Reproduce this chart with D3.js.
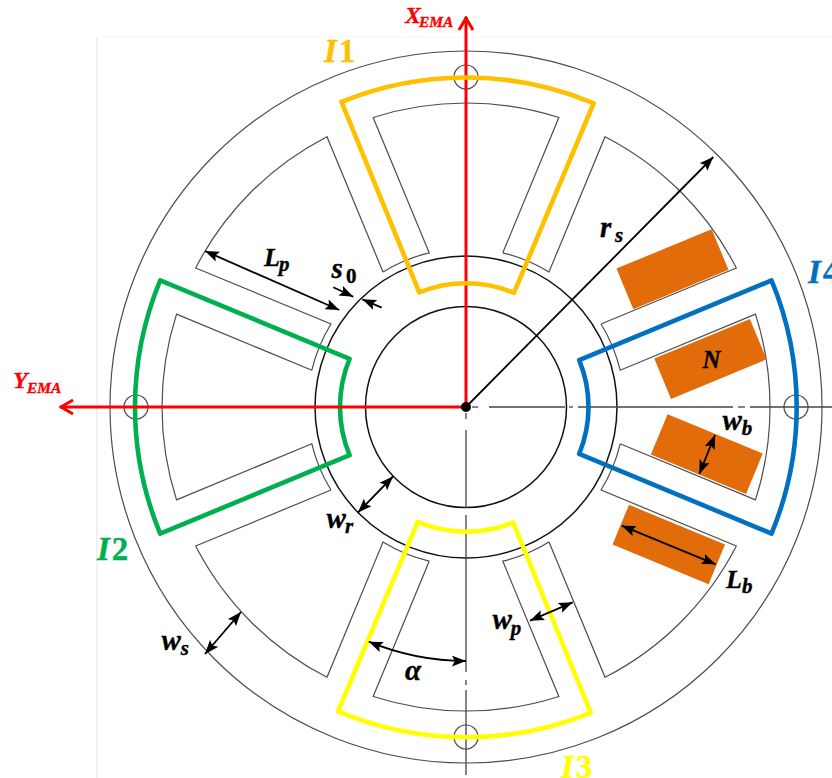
<!DOCTYPE html>
<html>
<head>
<meta charset="utf-8">
<script src="https://cdn.jsdelivr.net/npm/d3@7"></script>
<style>
  html, body { margin: 0; padding: 0; background: #fff; }
  svg { display: block; }
  text { font-family: "Liberation Serif", serif; font-weight: bold; }
</style>
</head>
<body>
<div id="chart"></div>
<script>
//////////////// machine dimensions (1 unit = 1 px) ////////////////
var statorRadius = 356;
var statorBackRadius = 304;
var toothTipRadius = 158.5;
var toothHalfWidth = 25;
var rotorRadius = 151;
var shaftRadius = 100.5;
var holeRadius = 12;
var holeDistance = 330;
var holeAngles = [0, 90, 180, 270];
var toothAngles = [22.5, 67.5, 112.5, 157.5, 202.5, 247.5, 292.5, 337.5];
var slotPitch = 45;

// coils
var coilNames = ["I1", "I2", "I3", "I4"];
var coilAngles = [0.3, 270, 180.3, 90];
var coilInner = [123.7, 126, 124.7, 122.5];
var coilOuter = [329.5, 331, 330.3, 330.7];
var coilHalfSpan = 22.5;
var coilColors = ["#ffc000", "#00b050", "#ffff00", "#0070c0"];

// magnets: tooth axis, distance along it, offset across it
var magnetTooth = [67.5, 67.5, 112.5, 112.5];
var magnetAlong = [[192, 295], [192.5, 296], [189, 292], [188, 292]];
var magnetAcross = [[26.3, 70.3], [27.3, 71], [26.8, 70.5], [28, 71]];

// dash-dot centre lines, distances from the centre
var rightDashes = [[6, 12], [23, 99], [103, 107], [112, 267], [272, 279], [284, 366]];
var downDashes = [[6, 12], [23, 101], [108, 265], [273, 278], [283, 368]];

// dimension arrows [x0, y0, x1, y1, two heads?], model units
var dimArrows = [
  [0, 0, 247.3, 250, false],       // r_s
  [-261, 156, -126.7, 97, true],   // L_p
  [-132.7, 119.7, -112.7, 110.3, false], // s_0
  [-84.3, 99.3, -103.7, 107.7, false],
  [-73, -69.5, -108, -105.5, true], // w_r
  [249, -28, 233.3, -67, true],    // w_b
  [155.7, -118.7, 249.7, -157.3, true], // L_b
  [64, -213.7, 106.7, -195.3, true], // w_p
  [-225, -205, -261, -247, true]   // w_s
];
var alphaRadius = 254;
var alphaSpan = [180, 202.5];

// labels: main text, subscript, sizes
var labelText = ["r", "L", "s", "w", "w", "w", "w", "L", "N", "α"];
var labelSub = ["s", "p", "0", "r", "s", "p", "b", "b", "", ""];
var labelSize = [29, 26, 29, 29, 29, 29, 29, 26, 25, 29];
var labelPos = [
  [600, 237, 615, 242], [264, 266, 279, 271], [331.5, 278, 346, 283],
  [326.5, 528, 345, 533], [161.5, 650, 180.7, 655], [492.5, 629, 510.7, 635],
  [722.5, 430, 741.7, 435], [726, 588, 742, 593], [702.5, 368, 0, 0], [405, 680, 0, 0]
];
var axisLabels = [
  {main: "X", sub: "EMA", pos: [405, 23, 419, 27]},
  {main: "Y", sub: "EMA", pos: [13, 388, 27, 393]}
];
var coilLabelPos = [[324, 62], [97, 560], [561, 778], [808, 283]];

//////////////// chart area ////////////////
var svgWidth = 832;
var svgHeight = 778;

var svg = d3.select("#chart").append("svg")
  .attr("width", svgWidth)
  .attr("height", svgHeight);

var x = d3.scaleLinear().domain([-statorRadius, statorRadius]).range([110, 822]);
var y = d3.scaleLinear().domain([-statorRadius, statorRadius]).range([763, 51]);
var r = d => x(d) - x(0);
var rad = d3.scaleLinear().domain([0, 360]).range([0, 2 * Math.PI]);

var defs = svg.append("defs");
defs.append("marker")
  .attr("id", "head")
  .attr("markerUnits", "userSpaceOnUse")
  .attr("viewBox", "0 0 13 10")
  .attr("markerWidth", 14).attr("markerHeight", 11)
  .attr("refX", 13).attr("refY", 5)
  .attr("orient", "auto-start-reverse")
  .append("path").attr("d", "M0,0L13,5L0,10L2.5,5Z").attr("fill", "#000");
defs.append("marker")
  .attr("id", "redHead")
  .attr("markerUnits", "userSpaceOnUse")
  .attr("viewBox", "0 0 16 18")
  .attr("markerWidth", 16).attr("markerHeight", 18)
  .attr("refX", 15).attr("refY", 9)
  .attr("orient", "auto")
  .append("path").attr("d", "M2,2L14,9L2,16")
  .attr("fill", "none").attr("stroke", "#ff0000").attr("stroke-width", 3);

// faint frame left in the source picture
svg.append("path")
  .attr("d", `M97,${svgHeight}V37`)
  .attr("fill", "none").attr("stroke", "#e2e2e2").attr("stroke-width", 1);
svg.append("path")
  .attr("d", `M97,37H${svgWidth}`)
  .attr("fill", "none").attr("stroke", "#f6f6f6").attr("stroke-width", 1);

//////////////// stator and rotor ////////////////
var thin = "#4d4d4d";

svg.append("circle")
  .attr("cx", x(0)).attr("cy", y(0)).attr("r", r(statorRadius))
  .attr("fill", "none").attr("stroke", thin).attr("stroke-width", 1.2);

function toothCorner(angle, radius, side) {
  var t = rad(angle);
  var along = Math.sqrt(radius * radius - toothHalfWidth * toothHalfWidth);
  var ux = Math.sin(t), uy = Math.cos(t);
  var nx = Math.cos(t), ny = -Math.sin(t);
  return [along * ux + side * toothHalfWidth * nx, along * uy + side * toothHalfWidth * ny];
}
var screenAngle = p => Math.atan2(y(p[1]) - y(0), x(p[0]) - x(0));

var stator = d3.path();
toothAngles.forEach(a => {
  var tipA = toothCorner(a, toothTipRadius, -1);
  var tipB = toothCorner(a, toothTipRadius, 1);
  var backB = toothCorner(a, statorBackRadius, 1);
  var backNext = toothCorner(a + slotPitch, statorBackRadius, -1);
  var tipNext = toothCorner(a + slotPitch, toothTipRadius, -1);
  stator.moveTo(x(tipA[0]), y(tipA[1]));
  stator.arc(x(0), y(0), r(toothTipRadius), screenAngle(tipA), screenAngle(tipB), false);
  stator.lineTo(x(backB[0]), y(backB[1]));
  stator.arc(x(0), y(0), r(statorBackRadius), screenAngle(backB), screenAngle(backNext), false);
  stator.lineTo(x(tipNext[0]), y(tipNext[1]));
});
svg.append("path")
  .attr("d", stator.toString())
  .attr("fill", "none").attr("stroke", thin).attr("stroke-width", 1.2);

svg.selectAll(".rotor")
  .data([rotorRadius, shaftRadius])
  .enter().append("circle")
  .attr("class", "rotor")
  .attr("cx", x(0)).attr("cy", y(0)).attr("r", d => r(d))
  .attr("fill", "none").attr("stroke", "#111").attr("stroke-width", 1.5);

svg.selectAll(".hole")
  .data(holeAngles)
  .enter().append("circle")
  .attr("class", "hole")
  .attr("cx", d => x(holeDistance * Math.sin(rad(d))))
  .attr("cy", d => y(holeDistance * Math.cos(rad(d))))
  .attr("r", r(holeRadius))
  .attr("fill", "none").attr("stroke", thin).attr("stroke-width", 1.2);

//////////////// centre lines ////////////////
svg.selectAll(".cl-right")
  .data(rightDashes)
  .enter().append("line")
  .attr("class", "cl-right")
  .attr("x1", d => x(d[0])).attr("x2", d => x(d[1]))
  .attr("y1", y(0)).attr("y2", y(0))
  .attr("stroke", "#444").attr("stroke-width", 1.3);

svg.selectAll(".cl-down")
  .data(downDashes)
  .enter().append("line")
  .attr("class", "cl-down")
  .attr("x1", x(0)).attr("x2", x(0))
  .attr("y1", d => y(-d[0])).attr("y2", d => y(-d[1]))
  .attr("stroke", "#444").attr("stroke-width", 1.3);

//////////////// magnets ////////////////
svg.selectAll(".magnet")
  .data(magnetTooth)
  .enter().append("path")
  .attr("class", "magnet")
  .attr("fill", "#e36c0a")
  .attr("d", (a, i) => {
    var side = i % 2 === 0 ? -1 : 1;
    var t = rad(a);
    var pt = (l, w) => [x(l * Math.sin(t) + side * w * Math.cos(t)), y(l * Math.cos(t) - side * w * Math.sin(t))];
    var al = magnetAlong[i], ac = magnetAcross[i];
    return d3.line()([pt(al[0], ac[0]), pt(al[1], ac[0]), pt(al[1], ac[1]), pt(al[0], ac[1])]) + "Z";
  });

//////////////// coils and red axes ////////////////
function coilArc(i) {
  return d3.arc()
    .innerRadius(r(coilInner[i]))
    .outerRadius(r(coilOuter[i]))
    .startAngle(rad(coilAngles[i] - coilHalfSpan))
    .endAngle(rad(coilAngles[i] + coilHalfSpan))();
}
function drawCoil(i) {
  svg.append("path")
    .attr("d", coilArc(i))
    .attr("transform", `translate(${x(0)},${y(0)})`)
    .attr("fill", "none")
    .attr("stroke", coilColors[i])
    .attr("stroke-width", 4.6)
    .attr("stroke-linejoin", "round");
}
drawCoil(1);
drawCoil(3);
drawCoil(2);

var redTips = [[0, 390], [-406, 0]];
svg.selectAll(".red-axis")
  .data(redTips)
  .enter().append("line")
  .attr("class", "red-axis")
  .attr("x1", x(0)).attr("y1", y(0))
  .attr("x2", d => x(d[0])).attr("y2", d => y(d[1]))
  .attr("stroke", "#ff0000").attr("stroke-width", 3)
  .attr("marker-end", "url(#redHead)");

drawCoil(0);

//////////////// dimensions ////////////////
svg.selectAll(".dim")
  .data(dimArrows)
  .enter().append("line")
  .attr("class", "dim")
  .attr("x1", d => x(d[0])).attr("y1", d => y(d[1]))
  .attr("x2", d => x(d[2])).attr("y2", d => y(d[3]))
  .attr("stroke", "#000").attr("stroke-width", 1.8)
  .attr("marker-end", "url(#head)")
  .attr("marker-start", d => d[4] ? "url(#head)" : null);

var alphaArc = d3.path();
alphaArc.arc(x(0), y(0), r(alphaRadius), rad(alphaSpan[1] - 90), rad(alphaSpan[0] - 90), true);
svg.append("path")
  .attr("d", alphaArc.toString())
  .attr("fill", "none").attr("stroke", "#000").attr("stroke-width", 1.8)
  .attr("marker-start", "url(#head)")
  .attr("marker-end", "url(#head)");

svg.append("circle")
  .attr("cx", x(0)).attr("cy", y(0)).attr("r", 5).attr("fill", "#000");

//////////////// text ////////////////
function addLabel(main, sub, pos, size, subSize, color) {
  var t = svg.append("text")
    .attr("fill", color).attr("stroke", color).attr("stroke-width", 0.35)
    .attr("font-style", "italic");
  t.append("tspan").attr("x", pos[0]).attr("y", pos[1]).attr("font-size", size).text(main);
  if (sub) {
    var s = t.append("tspan").attr("x", pos[2]).attr("y", pos[3]).attr("font-size", subSize).text(sub);
    if (sub === "0") s.attr("font-style", "normal");
  }
}
labelText.forEach((d, i) => addLabel(d, labelSub[i], labelPos[i], labelSize[i], 21, "#000"));
axisLabels.forEach(d => addLabel(d.main, d.sub, d.pos, 24, 15.5, "#ff0000"));

coilNames.forEach((name, i) => {
  var t = svg.append("text")
    .attr("x", coilLabelPos[i][0]).attr("y", coilLabelPos[i][1])
    .attr("font-size", 33)
    .attr("fill", coilColors[i])
    .attr("stroke", coilColors[i]).attr("stroke-width", 0.35);
  t.append("tspan").attr("font-style", "italic").text(name[0]);
  t.append("tspan").attr("dx", 2).text(name[1]);
});
</script>
</body>
</html>
